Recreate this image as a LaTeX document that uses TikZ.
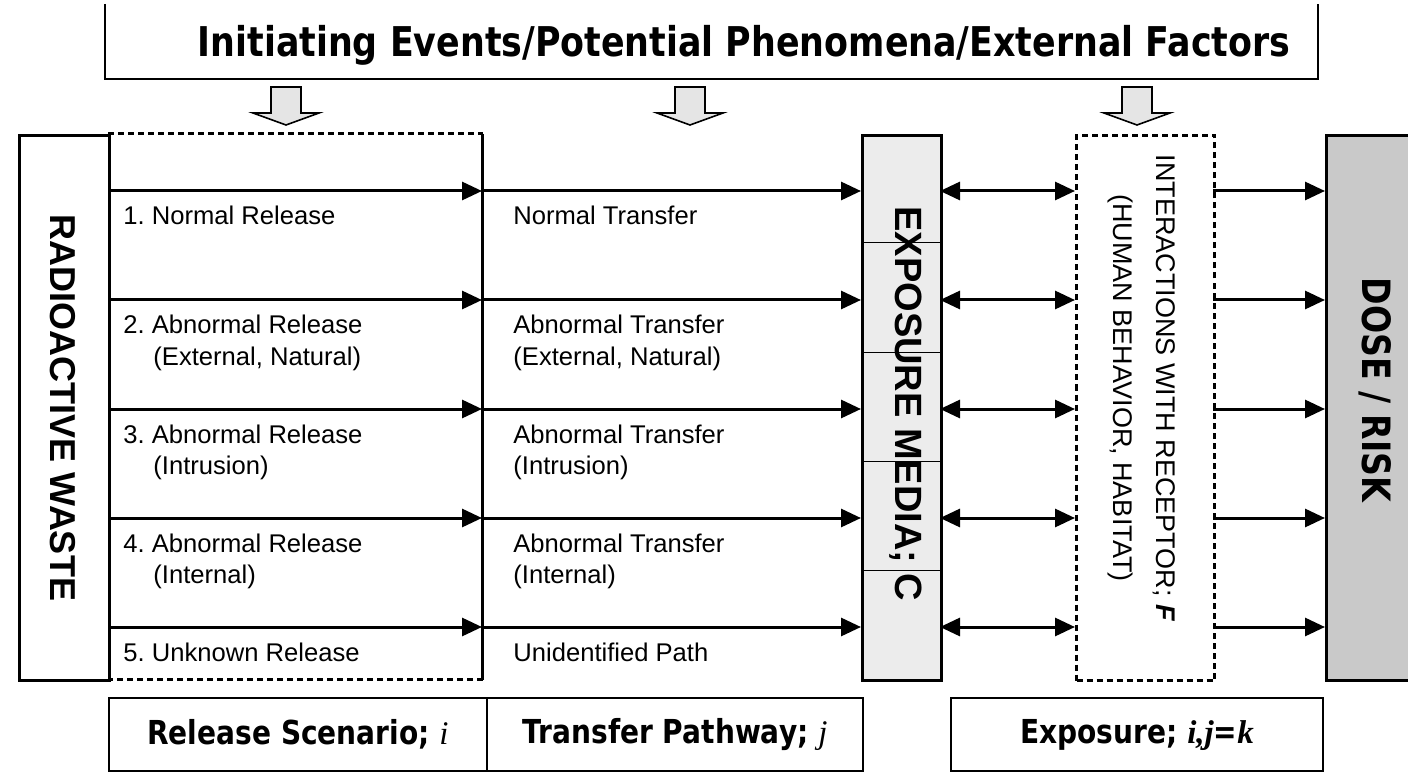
\documentclass[tikz,border=0pt]{standalone}
\usepackage{fontspec}
\setmainfont{Liberation Sans}
\newfontfamily\tah[FakeStretch=0.85]{DejaVu Sans}
\newfontfamily\tms{Liberation Serif}
\usetikzlibrary{arrows.meta}
\frenchspacing
\begin{document}
\begin{tikzpicture}[x=0.5pt,y=-0.5pt,
  box/.style={draw, line width=1.5pt, inner sep=0pt, anchor=north west},
  thinbox/.style={draw, line width=1pt, inner sep=0pt, anchor=north west},
  dline/.style={line width=1.5pt, dash pattern=on 3pt off 2pt},
  sline/.style={line width=1.5pt},
  arr/.style={line width=1.5pt, -{Triangle[length=10pt,width=9pt]}},
  darr/.style={line width=1.5pt, {Triangle[length=10pt,width=9pt]}-{Triangle[length=10pt,width=9pt]}},
  body/.style={font=\fontsize{12.8}{15}\selectfont, anchor=base west, inner sep=0pt},
  blockarrow/.style={draw, line width=0.8pt, fill=gray!20},
  lbl/.style={font=\tah\bfseries\fontsize{16.5}{20}\selectfont}
]
\useasboundingbox (0,0) rectangle (1408,775);
\fill[white] (0,0) rectangle (1408,775);

% top box (open at top)
\node[font=\tah\bfseries\fontsize{20.5}{24}\selectfont, anchor=base] (init) at (744,57) {Initiating Events/Potential Phenomena/External Factors};
\draw[line width=1pt] (105,4) -- (105,79) -- (1318,79) -- (1318,4);

% block arrows
\foreach \cx in {286,690,1137} {
  \draw[blockarrow] (\cx-15,87) -- (\cx+15,87) -- (\cx+15,113) -- (\cx+33,113) -- (\cx,125) -- (\cx-33,113) -- (\cx-15,113) -- cycle;
}

% main boxes
\node[box, minimum width=45pt, minimum height=272.5pt] (waste) at (18,134) {};
\node[rotate=-90, font=\bfseries\fontsize{18}{20}\selectfont] (wastelbl) at (63,408) {RADIOACTIVE WASTE};

\node[inner sep=0pt, minimum width=187pt, minimum height=272.5pt, anchor=north west] (rel) at (108,134) {};
\draw[dline] (rel.north west) -- (rel.north east);
\draw[sline] (rel.north east) -- (rel.south east);
\draw[dline] (rel.south east) -- (rel.south west);

\node[box, fill=gray!15, minimum width=39.5pt, minimum height=272.5pt] (expo) at (861,134) {};
\foreach \y in {243,352,461,570} { \draw[line width=0.5pt] (861,\y) -- (940,\y); }
\node[rotate=-90, font=\bfseries\fontsize{19}{22}\selectfont] (expolbl) at (906,404) {EXPOSURE MEDIA; C};

\node[draw, dline, inner sep=0pt, anchor=north west, minimum width=69pt, minimum height=272.5pt] (inter) at (1075,134) {};
\node[rotate=-90, align=center, font=\fontsize{13.5}{21.5}\selectfont] (interlbl) at (1142,388) {INTERACTIONS WITH RECEPTOR; \textbf{\textit{F}}\\(HUMAN BEHAVIOR, HABITAT)};

\node[box, fill=gray!42, minimum width=50pt, minimum height=272.5pt] (dose) at (1325,134) {};
\node[rotate=-90, font=\tah\bfseries\fontsize{19.5}{22}\selectfont] (doselbl) at (1375,390) {DOSE / RISK};

% rows
\foreach \k/\y in {1/191,2/300,3/409,4/518,5/627} {
  \coordinate (s\k) at (108,\y);
  \coordinate (t\k) at (482,\y);
  \coordinate (m\k) at (861,\y);
  \coordinate (d\k) at (940,\y);
  \coordinate (e\k) at (1075,\y);
  \coordinate (f\k) at (1213,\y);
  \coordinate (g\k) at (1325,\y);
  \draw[arr] (s\k) -- (t\k);
  \draw[arr] (t\k) -- (m\k);
  \draw[darr] (d\k) -- (e\k);
  \draw[arr] (f\k) -- (g\k);
}

% row texts
\node[body] (r1a) at (123,225) {1. Normal Release};
\node[body] (r1b) at (513,225) {Normal Transfer};
\node[body] (r2a) at (123,334) {2. Abnormal Release};
\node[body] (r2c) at (153,365) {(External, Natural)};
\node[body] (r2b) at (513,334) {Abnormal Transfer};
\node[body] (r2d) at (513,365) {(External, Natural)};
\node[body] (r3a) at (123,443) {3. Abnormal Release};
\node[body] (r3c) at (153,474) {(Intrusion)};
\node[body] (r3b) at (513,443) {Abnormal Transfer};
\node[body] (r3d) at (513,474) {(Intrusion)};
\node[body] (r4a) at (123,552) {4. Abnormal Release};
\node[body] (r4c) at (153,583) {(Internal)};
\node[body] (r4b) at (513,552) {Abnormal Transfer};
\node[body] (r4d) at (513,583) {(Internal)};
\node[body] (r5a) at (123,661) {5. Unknown Release};
\node[body] (r5b) at (513,661) {Unidentified Path};

% bottom labels
\node[thinbox, lbl, minimum width=189pt, minimum height=36.5pt] (rs) at (108,697) {Release Scenario; {\tms\mdseries\itshape i}};
\node[thinbox, lbl, minimum width=188pt, minimum height=36.5pt] (tp) at (486,697) {Transfer Pathway; {\tms\mdseries\itshape j}};
\node[thinbox, lbl, minimum width=186pt, minimum height=36.5pt] (ex) at (950,697) {Exposure; {\tms\itshape i,j}={\tms\bfseries\itshape k}};
\end{tikzpicture}
\end{document}
